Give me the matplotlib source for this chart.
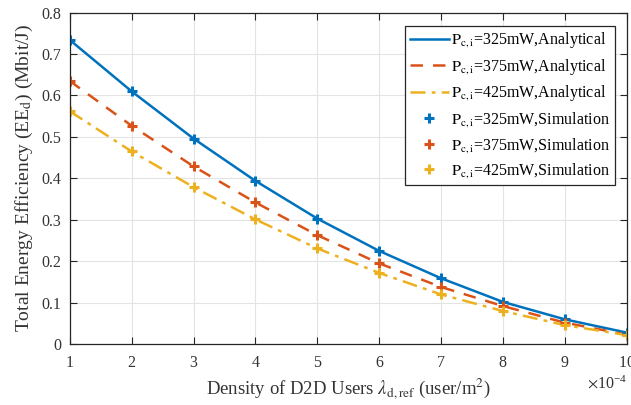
import matplotlib
matplotlib.use("Agg")
import matplotlib.pyplot as plt
from matplotlib.ticker import ScalarFormatter

plt.rcParams['font.family'] = ['Liberation Serif', 'DejaVu Serif']
plt.rcParams['mathtext.fontset'] = 'stix'

density = [1e-4, 2e-4, 3e-4, 4e-4, 5e-4, 6e-4, 7e-4, 8e-4, 9e-4, 10e-4]
ee_325 = [0.734, 0.610, 0.496, 0.394, 0.303, 0.225, 0.159, 0.102, 0.060, 0.028]
ee_375 = [0.635, 0.527, 0.429, 0.342, 0.263, 0.195, 0.138, 0.092, 0.052, 0.023]
ee_425 = [0.562, 0.465, 0.379, 0.301, 0.231, 0.172, 0.120, 0.080, 0.046, 0.022]
labels_power = ['325', '375', '425']
colors = ['#0072BD', '#D95319', '#EDB120']
styles = ['-', (0, (5, 4)), (0, (6, 2.5, 1.5, 2.5))]
txt = '#333333'

fig = plt.figure(figsize=(6.31, 4.05), dpi=100)
ax = fig.add_axes([0.1105, 0.150, 0.883, 0.819])

series = [ee_325, ee_375, ee_425]
for s, c, ls, p in zip(series, colors, styles, labels_power):
    ax.plot(density, s, color=c, linestyle=ls, linewidth=1.8,
            label=r'$\mathrm{P_{c,i}}$=' + p + 'mW,Analytical')
for s, c, p in zip(series, colors, labels_power):
    ax.plot(density, s, color=c, linestyle='none', marker='+', markersize=7,
            markeredgewidth=2.2, label=r'$\mathrm{P_{c,i}}$=' + p + 'mW,Simulation')

ax.set_xlim(1e-4, 10e-4)
ax.set_ylim(0, 0.8)
ax.set_xticks(density)
ax.set_yticks([0, 0.1, 0.2, 0.3, 0.4, 0.5, 0.6, 0.7, 0.8])
ax.set_yticklabels(['0', '0.1', '0.2', '0.3', '0.4', '0.5', '0.6', '0.7', '0.8'])
fmt = ScalarFormatter(useMathText=True)
fmt.set_powerlimits((-4, -4))
ax.xaxis.set_major_formatter(fmt)
ax.xaxis.get_offset_text().set_fontsize(11.5)
ax.xaxis.get_offset_text().set_color(txt)

ax.grid(True, color='#e3e3e3', linewidth=0.8)
ax.set_axisbelow(True)
ax.tick_params(direction='in', top=True, right=True, labelsize=11.5, colors='#262626',
               labelcolor=txt, length=5)
ax.tick_params(axis='x', pad=8)
ax.tick_params(axis='y', pad=6)
for sp in ax.spines.values():
    sp.set_color('#262626')
    sp.set_linewidth(0.9)

ax.set_xlabel(r'Density of D2D Users $\lambda_{\mathrm{d,ref}}$ (user/m$^2$)', fontsize=13.5,
              color=txt, labelpad=4)
ax.set_ylabel(r'Total Energy Efficiency (EE$_{\mathrm{d}}$) (Mbit/J)', fontsize=14,
              color=txt, labelpad=5)

leg = ax.legend(loc='upper right', bbox_to_anchor=(0.978, 0.96), fontsize=11.5,
                frameon=True, fancybox=False, edgecolor='#262626', framealpha=1,
                handlelength=2.4, handletextpad=0.15, borderpad=0.3, labelspacing=0.42,
                borderaxespad=0)
leg.get_frame().set_linewidth(0.9)

fig.savefig('out.png', dpi=100)
